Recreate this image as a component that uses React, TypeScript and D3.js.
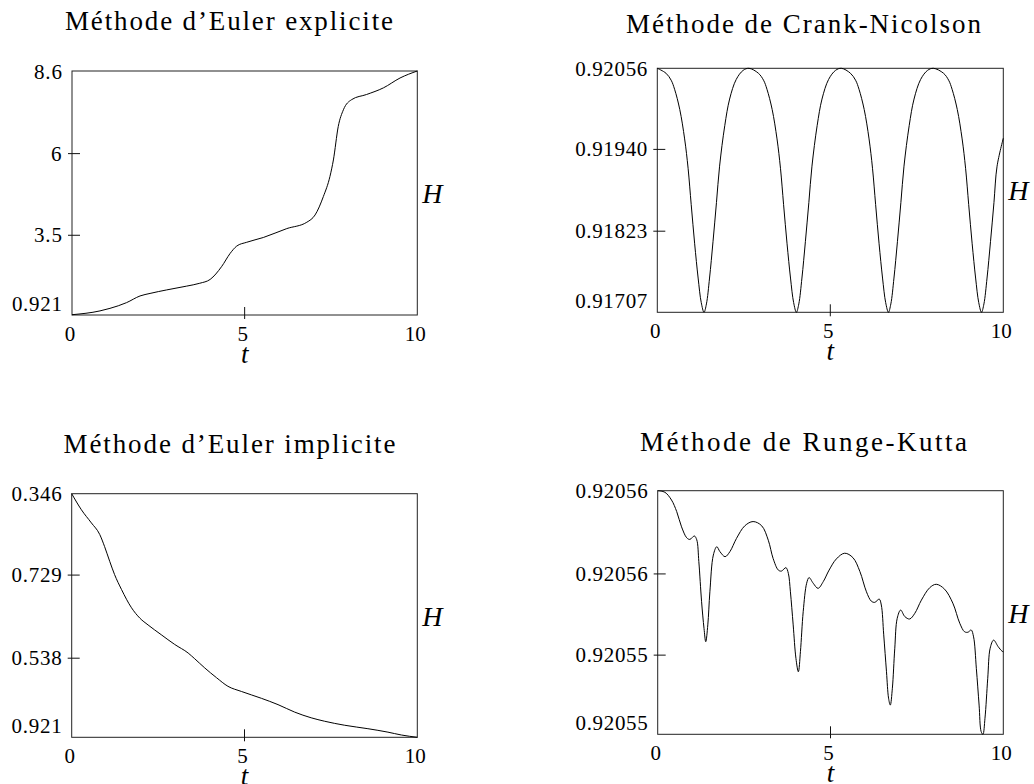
import React from "react";
import * as d3 from "d3";

// ---------- Data ----------
// Méthode d'Euler explicite
const explicitT = [0, 0.81, 1.1, 1.58, 1.97, 2.26, 2.74, 3.32, 3.7, 4.0, 4.33, 4.58, 4.77, 5.06, 5.54, 6.22, 6.8, 7.04, 7.28, 7.47, 7.57, 7.71, 7.86, 8.1, 8.53, 9.02, 9.5, 10];
const explicitH = [0.93, 1.05, 1.13, 1.31, 1.52, 1.6, 1.71, 1.83, 1.92, 2.04, 2.44, 2.86, 3.09, 3.21, 3.36, 3.64, 3.84, 4.07, 4.65, 5.28, 5.8, 6.85, 7.38, 7.7, 7.86, 8.07, 8.38, 8.6];
const explicitDomain = [0.921, 8.6];
const explicitTickValues = [3.43, 6.0];
const explicitTickLabels = ["0.921", "3.5", "6", "8.6"];

// Méthode de Crank-Nicolson
const cnT = [
  0, 0.25, 0.4, 0.5, 0.65, 0.79, 0.89, 0.98, 1.08, 1.18, 1.27, 1.35, 1.42, 1.51, 1.61, 1.71, 1.8, 1.95, 2.09, 2.28, 2.48, 2.65,
  2.92, 3.07, 3.17, 3.32, 3.46, 3.56, 3.65, 3.75, 3.85, 3.94, 4.02, 4.09, 4.18, 4.28, 4.38, 4.47, 4.62, 4.76, 4.95, 5.15, 5.32,
  5.58, 5.73, 5.83, 5.98, 6.12, 6.22, 6.31, 6.41, 6.51, 6.6, 6.68, 6.75, 6.84, 6.94, 7.04, 7.13, 7.28, 7.42, 7.61, 7.81, 7.98,
  8.27, 8.42, 8.52, 8.67, 8.81, 8.91, 9.0, 9.1, 9.2, 9.29, 9.37, 9.44, 9.53, 9.63, 9.73, 9.82, 10.0,
];
const cnH = [
  0.92056,
  0.92049, 0.92039, 0.92026, 0.91997, 0.91955, 0.91913, 0.91861, 0.91805, 0.91756, 0.91721,
  0.91707,
  0.91719, 0.91756, 0.91808, 0.91864, 0.91916, 0.91974, 0.92012, 0.9204, 0.92053, 0.92056,
  0.92049, 0.92039, 0.92026, 0.91997, 0.91955, 0.91913, 0.91861, 0.91805, 0.91756, 0.91721,
  0.91707,
  0.91719, 0.91756, 0.91808, 0.91864, 0.91916, 0.91974, 0.92012, 0.9204, 0.92053, 0.92056,
  0.92049, 0.92039, 0.92026, 0.91997, 0.91955, 0.91913, 0.91861, 0.91805, 0.91756, 0.91721,
  0.91707,
  0.91719, 0.91756, 0.91808, 0.91864, 0.91916, 0.91974, 0.92012, 0.9204, 0.92053, 0.92056,
  0.92049, 0.92039, 0.92026, 0.91997, 0.91955, 0.91913, 0.91861, 0.91805, 0.91756, 0.91721,
  0.91707,
  0.91719, 0.91756, 0.91808, 0.91864, 0.91916, 0.91956,
];
const cnDomain = [0.91707, 0.92056];
const cnTickValues = [0.91823, 0.9194];
const cnTickLabels = ["0.91707", "0.91823", "0.91940", "0.92056"];

// Méthode d'Euler implicite
const implicitT = [0, 0.28, 0.57, 0.81, 0.95, 1.1, 1.24, 1.44, 1.73, 1.97, 2.21, 2.59, 2.98, 3.37, 3.56, 3.85, 4.19, 4.52, 4.91, 5.49, 5.97, 6.45, 6.93, 7.32, 7.9, 8.57, 9.15, 9.54, 10];
const implicitH = [1.346, 1.318, 1.295, 1.275, 1.254, 1.228, 1.205, 1.179, 1.147, 1.129, 1.117, 1.1, 1.083, 1.068, 1.058, 1.042, 1.025, 1.01, 1.001, 0.989, 0.978, 0.965, 0.955, 0.949, 0.942, 0.936, 0.93, 0.925, 0.921];
const implicitDomain = [0.921, 1.346];
const implicitTickValues = [1.059, 1.204];
const implicitTickLabels = ["0.921", "0.538", "0.729", "0.346"];

// Méthode de Runge-Kutta
const rkT = [
  0, 0.21, 0.4, 0.55, 0.69, 0.84, 0.93, 1.06, 1.13, 1.19, 1.27, 1.34, 1.39, 1.45, 1.51, 1.61, 1.71, 1.8, 1.95, 2.09, 2.28, 2.52, 2.76,
  3.01, 3.2, 3.34, 3.49, 3.58, 3.71, 3.78, 3.84, 3.92, 4.0, 4.07, 4.13, 4.21, 4.31, 4.38, 4.5, 4.64, 4.79, 4.96, 5.17, 5.41, 5.65,
  5.85, 6.04, 6.18, 6.28, 6.41, 6.47, 6.54, 6.62, 6.68, 6.73, 6.79, 6.86, 6.93, 7.03, 7.15, 7.29, 7.44, 7.63, 7.87, 8.06, 8.3,
  8.54, 8.74, 8.88, 8.98, 9.07, 9.14, 9.22, 9.3, 9.36, 9.41, 9.47, 9.55, 9.62, 9.72, 9.85, 9.96, 10.0,
];
const rkH = [
  0.92056, 0.92055992, 0.92055954, 0.92055897, 0.92055822, 0.92055768, 0.9205576, 0.92055777, 0.92055758, 0.92055651, 0.92055453,
  0.92055322, 0.92055256, 0.92055339, 0.92055502, 0.92055683, 0.92055724, 0.920557, 0.92055675, 0.920557, 0.92055765, 0.92055827,
  0.92055848, 0.92055827, 0.92055756, 0.92055666, 0.92055609, 0.92055604, 0.92055621, 0.92055593, 0.92055502, 0.92055339,
  0.92055174, 0.92055108, 0.92055207, 0.92055404, 0.92055544, 0.92055572, 0.92055544, 0.92055519, 0.92055552, 0.92055609,
  0.92055664, 0.92055692, 0.9205567, 0.92055602, 0.92055502, 0.92055456, 0.9205545, 0.92055466, 0.92055437, 0.9205529,
  0.92055108, 0.92054978, 0.92054944, 0.92055027, 0.92055224, 0.92055371, 0.92055412, 0.9205538, 0.92055368, 0.92055396,
  0.92055461, 0.92055522, 0.92055539, 0.92055515, 0.92055446, 0.92055347, 0.92055305, 0.92055303, 0.92055314, 0.9205528,
  0.92055125, 0.92054944, 0.92054813, 0.920548, 0.92054879, 0.92055076, 0.92055224, 0.92055264, 0.92055232, 0.9205521, 0.92055206,
];
const rkDomain = [0.920548, 0.92056];
const rkTickValues = [0.9205519, 0.9205559];
const rkTickLabels = ["0.92055", "0.92055", "0.92056", "0.92056"];

const xTickValues = [0, 5, 10];
const xDomain = [0, 10];

const titles = [
  "Méthode d\u2019Euler explicite",
  "Méthode de Crank-Nicolson",
  "Méthode d\u2019Euler implicite",
  "Méthode de Runge-Kutta",
];

// ---------- Layout ----------
type Panel = {
  title: string;
  t: number[];
  h: number[];
  domain: number[];
  tickValues: number[];
  tickLabels: string[];
  curve: d3.CurveFactory;
  box: { x0: number; x1: number; y0: number; y1: number };
  titleY: number;
  titleX0: number;
  titleW: number;
};

const panels: Panel[] = [
  { title: titles[0], t: explicitT, h: explicitH, domain: explicitDomain, tickValues: explicitTickValues, tickLabels: explicitTickLabels, curve: d3.curveMonotoneX, box: { x0: 72, x1: 417.3, y0: 71, y1: 315 }, titleY: 30, titleX0: 65, titleW: 328 },
  { title: titles[1], t: cnT, h: cnH, domain: cnDomain, tickValues: cnTickValues, tickLabels: cnTickLabels, curve: d3.curveCatmullRom, box: { x0: 657.3, x1: 1003.3, y0: 68.3, y1: 312.3 }, titleY: 33, titleX0: 626, titleW: 355 },
  { title: titles[2], t: implicitT, h: implicitH, domain: implicitDomain, tickValues: implicitTickValues, tickLabels: implicitTickLabels, curve: d3.curveMonotoneX, box: { x0: 71.7, x1: 417.3, y0: 493.7, y1: 737.3 }, titleY: 453, titleX0: 63.5, titleW: 332 },
  { title: titles[3], t: rkT, h: rkH, domain: rkDomain, tickValues: rkTickValues, tickLabels: rkTickLabels, curve: d3.curveCatmullRom, box: { x0: 657.7, x1: 1003.3, y0: 490.7, y1: 734.3 }, titleY: 451, titleX0: 640, titleW: 327 },
];

const SERIF = "'Liberation Serif', 'Times New Roman', serif";
const labelLen = (s: string) => {
  const digits = s.replace(/[^0-9]/g, "").length;
  const dots = s.length - digits;
  return (digits * 0.5 + dots * 0.278) * 22;
};

function PanelView({ p }: { p: Panel }) {
  const { x0, x1, y0, y1 } = p.box;
  const x = d3.scaleLinear().domain(xDomain).range([x0, x1]);
  const y = d3.scaleLinear().domain(p.domain).range([y1, y0]);
  const pts = p.t.map((t, i) => [t, p.h[i]] as [number, number]);
  const line = d3
    .line<[number, number]>()
    .x((d) => x(d[0]))
    .y((d) => y(d[1]))
    .curve(p.curve);
  const yLabels = [
    { label: p.tickLabels[0], yy: y1 - 4.5 },
    { label: p.tickLabels[1], yy: y(p.tickValues[0]) + 7 },
    { label: p.tickLabels[2], yy: y(p.tickValues[1]) + 7 },
    { label: p.tickLabels[3], yy: y0 + 7.5 },
  ];
  return (
    <g>
      <text x={p.titleX0} y={p.titleY} textAnchor="start" fontFamily={SERIF} fontSize={27} textLength={p.titleW} lengthAdjust="spacing" fill="#000">
        {p.title}
      </text>
      <rect x={x0} y={y0} width={x1 - x0} height={y1 - y0} fill="none" stroke="#222" strokeWidth={1} />
      {p.tickValues.map((v, i) => (
        <line key={"yt" + i} x1={x0 - 4} x2={x0 + 8} y1={y(v)} y2={y(v)} stroke="#111" strokeWidth={1} />
      ))}
      <line x1={x(5)} x2={x(5)} y1={y1 - 8} y2={y1 + 4} stroke="#111" strokeWidth={1} />
      <path d={line(pts) || ""} fill="none" stroke="#000" strokeWidth={1} />
      {yLabels.map((l, i) => {
        const len = labelLen(l.label);
        return (
          <text key={"yl" + i} x={x0 - 10 - len} y={l.yy} textAnchor="start" fontFamily={SERIF} fontSize={21} fill="#000"
            {...(l.label.length > 1 ? { textLength: len, lengthAdjust: "spacing" } : {})}>
            {l.label}
          </text>
        );
      })}
      {xTickValues.map((v) => (
        <text key={"xl" + v} x={x(v) - 2} y={y1 + 26} textAnchor="middle" fontFamily={SERIF} fontSize={21} fill="#000">
          {String(v)}
        </text>
      ))}
      <text x={x(5)} y={y1 + 48} textAnchor="middle" fontFamily={SERIF} fontStyle="italic" fontSize={27} fill="#000">
        t
      </text>
      <text x={x1 + 5} y={(y0 + y1) / 2 + 10} textAnchor="start" fontFamily={SERIF} fontStyle="italic" fontSize={28} fill="#000">
        H
      </text>
    </g>
  );
}

export default function App() {
  return (
    <svg width={1034} height={784} style={{ position: "absolute", left: 0, top: 0, background: "#fff" }}>
      <rect x={0} y={0} width={1034} height={784} fill="#fff" />
      {panels.map((p, i) => (
        <PanelView key={i} p={p} />
      ))}
    </svg>
  );
}
